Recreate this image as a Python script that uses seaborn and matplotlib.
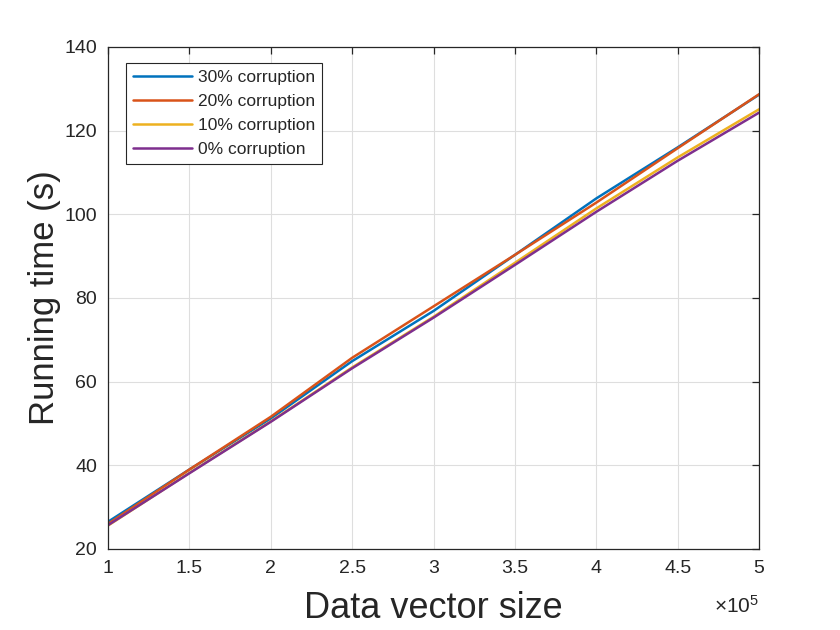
import matplotlib
matplotlib.use("Agg")
import matplotlib.pyplot as plt
import matplotlib.ticker as mticker
import seaborn as sns
import pandas as pd
import numpy as np

# Data (x in samples; displayed as x10^5)
sizes = [100000, 150000, 200000, 250000, 300000, 350000, 400000, 450000, 500000]
corr30 = [26.5, 39.0, 51.2, 64.9, 76.9, 90.3, 103.8, 116.0, 128.6]
corr20 = [26.0, 39.0, 51.6, 65.7, 78.0, 90.3, 102.8, 115.8, 128.7]
corr10 = [25.6, 38.2, 50.5, 63.4, 75.5, 88.4, 101.4, 113.6, 125.1]
corr0 = [25.7, 38.1, 50.4, 63.2, 75.3, 87.9, 100.6, 112.8, 124.3]
series_names = ["30% corruption", "20% corruption", "10% corruption", "0% corruption"]
x_ticks = [1e5, 1.5e5, 2e5, 2.5e5, 3e5, 3.5e5, 4e5, 4.5e5, 5e5]
y_ticks = [20, 40, 60, 80, 100, 120, 140]
x_exponent_label = r"$\times\mathdefault{10^{5}}$"

rows = []
for name, vals in zip(series_names, [corr30, corr20, corr10, corr0]):
    for s, v in zip(sizes, vals):
        rows.append({"size": s, "time": v, "series": name})
df = pd.DataFrame(rows)

sns.set_style("white")
plt.rcParams["font.family"] = ["Liberation Sans", "DejaVu Sans"]
plt.rcParams["mathtext.fontset"] = "custom"
plt.rcParams["mathtext.rm"] = "Liberation Sans"
plt.rcParams["mathtext.it"] = "Liberation Sans:italic"

palette = {
    "30% corruption": (0.0, 0.447, 0.741),
    "20% corruption": (0.85, 0.325, 0.098),
    "10% corruption": (0.929, 0.694, 0.125),
    "0% corruption": (0.494, 0.184, 0.556),
}
dark = (0.15, 0.15, 0.15)

fig = plt.figure(figsize=(8.4, 6.3), dpi=100)
ax = fig.add_axes([0.1286, 0.1286, 0.775, 0.7968])

sns.lineplot(data=df, x="size", y="time", hue="series", hue_order=series_names,
             palette=palette, linewidth=1.8, ax=ax, legend=True)

ax.set_xlim(1e5, 5e5)
ax.set_ylim(20, 140)
ax.set_xticks(x_ticks)
ax.set_yticks(y_ticks)
ax.xaxis.set_major_formatter(mticker.FuncFormatter(lambda v, p: f"{v / 1e5:g}"))

ax.grid(True, color=(0.87, 0.87, 0.87), linewidth=0.8)
ax.set_axisbelow(True)
for sp in ax.spines.values():
    sp.set_color(dark)
    sp.set_linewidth(0.9)
    sp.set_visible(True)

ax.tick_params(direction="in", length=5, width=0.9, top=True, right=True,
               labelsize=14, colors=dark, pad=8)

ax.text(1.0, -0.092, x_exponent_label, transform=ax.transAxes, ha="right", va="top",
        fontsize=15, color=dark)

ax.set_xlabel("Data vector size", fontsize=26, color=dark, labelpad=10)
ax.set_ylabel("Running time (s)", fontsize=25, color=dark, labelpad=2)

leg = ax.legend(loc="upper left", bbox_to_anchor=(0.027, 0.9675), fontsize=12.5,
                frameon=True, fancybox=False, framealpha=1, edgecolor=dark,
                handlelength=3.4, borderaxespad=0, labelspacing=0.5, handletextpad=0.35,
                borderpad=0.4)
leg.get_frame().set_linewidth(0.8)

fig.savefig("out.png", dpi=100, facecolor="white")
